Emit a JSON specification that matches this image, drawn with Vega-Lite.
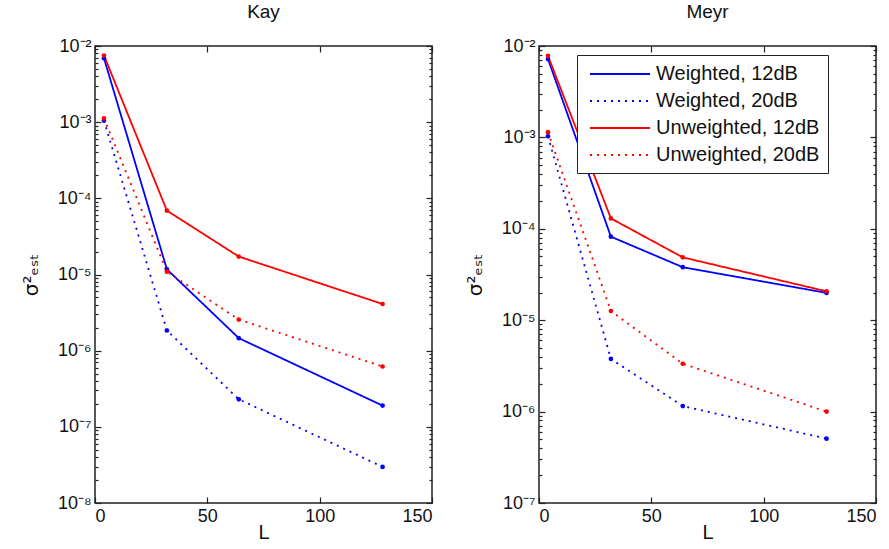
{
  "$schema": "https://vega.github.io/schema/vega-lite/v6.json",
  "padding": {"left": 20, "top": 2, "right": 0, "bottom": 4},
  "background": "white",
  "bounds": "flush",
  "spacing": 107,
  "config": {
    "font": "Liberation Sans",
    "view": {"stroke": "#222", "strokeWidth": 1.5},
    "axis": {
      "domain": false,
      "grid": false,
      "tickColor": "#222",
      "tickWidth": 1.2,
      "tickSize": 6,
      "offset": -6,
      "labelFontSize": 18,
      "labelColor": "#111",
      "labelPadding": 4,
      "titleFontSize": 20,
      "titleFontWeight": "normal",
      "titleColor": "#111"
    },
    "title": {"fontSize": 19, "fontWeight": "normal", "color": "#111", "offset": 15, "frame": "group"}
  },
  "data": {
    "values": [
      {"panel": "Kay", "series": "Weighted, 12dB", "L": 4, "v": 0.0069},
      {"panel": "Kay", "series": "Weighted, 12dB", "L": 32, "v": 0.0000117},
      {"panel": "Kay", "series": "Weighted, 12dB", "L": 64, "v": 0.00000146},
      {"panel": "Kay", "series": "Weighted, 12dB", "L": 128, "v": 0.00000019},
      {"panel": "Kay", "series": "Weighted, 20dB", "L": 4, "v": 0.00105},
      {"panel": "Kay", "series": "Weighted, 20dB", "L": 32, "v": 0.00000184},
      {"panel": "Kay", "series": "Weighted, 20dB", "L": 64, "v": 0.00000023},
      {"panel": "Kay", "series": "Weighted, 20dB", "L": 128, "v": 0.0000000298},
      {"panel": "Kay", "series": "Unweighted, 12dB", "L": 4, "v": 0.0075},
      {"panel": "Kay", "series": "Unweighted, 12dB", "L": 32, "v": 0.000069},
      {"panel": "Kay", "series": "Unweighted, 12dB", "L": 64, "v": 0.0000172},
      {"panel": "Kay", "series": "Unweighted, 12dB", "L": 128, "v": 0.0000041},
      {"panel": "Kay", "series": "Unweighted, 20dB", "L": 4, "v": 0.00112},
      {"panel": "Kay", "series": "Unweighted, 20dB", "L": 32, "v": 0.0000109},
      {"panel": "Kay", "series": "Unweighted, 20dB", "L": 64, "v": 0.00000256},
      {"panel": "Kay", "series": "Unweighted, 20dB", "L": 128, "v": 0.00000062},
      {"panel": "Meyr", "series": "Weighted, 12dB", "L": 4, "v": 0.0072},
      {"panel": "Meyr", "series": "Weighted, 12dB", "L": 32, "v": 0.000082},
      {"panel": "Meyr", "series": "Weighted, 12dB", "L": 64, "v": 0.000038},
      {"panel": "Meyr", "series": "Weighted, 12dB", "L": 128, "v": 0.0000199},
      {"panel": "Meyr", "series": "Weighted, 20dB", "L": 4, "v": 0.00103},
      {"panel": "Meyr", "series": "Weighted, 20dB", "L": 32, "v": 0.00000377},
      {"panel": "Meyr", "series": "Weighted, 20dB", "L": 64, "v": 0.00000115},
      {"panel": "Meyr", "series": "Weighted, 20dB", "L": 128, "v": 0.000000506},
      {"panel": "Meyr", "series": "Unweighted, 12dB", "L": 4, "v": 0.0078},
      {"panel": "Meyr", "series": "Unweighted, 12dB", "L": 32, "v": 0.00013},
      {"panel": "Meyr", "series": "Unweighted, 12dB", "L": 64, "v": 0.0000487},
      {"panel": "Meyr", "series": "Unweighted, 12dB", "L": 128, "v": 0.0000207},
      {"panel": "Meyr", "series": "Unweighted, 20dB", "L": 4, "v": 0.00114},
      {"panel": "Meyr", "series": "Unweighted, 20dB", "L": 32, "v": 0.0000126},
      {"panel": "Meyr", "series": "Unweighted, 20dB", "L": 64, "v": 0.00000334},
      {"panel": "Meyr", "series": "Unweighted, 20dB", "L": 128, "v": 0.000001}
    ]
  },
  "resolve": {
    "scale": {"color": "independent", "strokeDash": "independent", "y": "independent"},
    "legend": {"color": "independent", "strokeDash": "independent"}
  },
  "hconcat": [
    {
      "width": 337,
      "height": 457,
      "title": {"text": "Kay", "anchor": "middle"},
      "transform": [{"filter": "datum.panel == 'Kay'"}],
      "resolve": {"axis": {"x": "independent", "y": "independent"}},
      "layer": [
        {
          "mark": {"type": "line", "strokeWidth": 1.8, "point": {"filled": true, "size": 22}},
          "encoding": {
            "x": {"field": "L", "type": "quantitative", "scale": {"domain": [0, 150], "nice": false},
                  "axis": {"orient": "bottom", "values": [0, 50, 100, 150], "title": "L", "titlePadding": -3}},
            "y": {"field": "v", "type": "quantitative", "scale": {"type": "log", "domain": [1e-8, 0.01], "nice": false},
                  "axis": {"orient": "left", "values": [1e-8, 1e-7, 1e-6, 1e-5, 1e-4, 1e-3, 1e-2],
                           "labelExpr": "'10⁻' + ['⁰','¹','²','³','⁴','⁵','⁶','⁷','⁸','⁹'][round(-log(datum.value)/LN10)]",
                           "title": "σ²ₑₛₜ", "titlePadding": 16, "titleFont": "DejaVu Sans"}},
            "color": {"field": "series", "type": "nominal",
                      "scale": {"domain": ["Weighted, 12dB", "Weighted, 20dB", "Unweighted, 12dB", "Unweighted, 20dB"],
                                "range": ["#0000ff", "#0000ff", "#ff0000", "#ff0000"]}, "legend": null},
            "strokeDash": {"field": "series", "type": "nominal",
                           "scale": {"domain": ["Weighted, 12dB", "Weighted, 20dB", "Unweighted, 12dB", "Unweighted, 20dB"],
                                     "range": [[1, 0], [2, 5], [1, 0], [2, 5]]}, "legend": null}
          }
        },
        {
          "mark": {"type": "point", "opacity": 0},
          "encoding": {
            "x": {"field": "L", "type": "quantitative", "scale": {"domain": [0, 150], "nice": false},
                  "axis": {"orient": "top", "values": [0, 50, 100, 150], "labels": false, "title": null}},
            "y": {"field": "v", "type": "quantitative", "scale": {"type": "log", "domain": [1e-8, 0.01], "nice": false},
                  "axis": {"orient": "right", "values": [1e-8, 1e-7, 1e-6, 1e-5, 1e-4, 1e-3, 1e-2], "labels": false, "title": null}}
          }
        },
        {
          "mark": {"type": "point", "opacity": 0},
          "encoding": {
            "x": {"field": "L", "type": "quantitative", "scale": {"domain": [0, 150], "nice": false}, "axis": null},
            "y": {"field": "v", "type": "quantitative", "scale": {"type": "log", "domain": [1e-8, 0.01], "nice": false},
                  "axis": {"orient": "left", "tickSize": 3, "offset": -3, "labels": false, "title": null,
                           "values": [2e-8,3e-8,4e-8,5e-8,6e-8,7e-8,8e-8,9e-8,2e-7,3e-7,4e-7,5e-7,6e-7,7e-7,8e-7,9e-7,2e-6,3e-6,4e-6,5e-6,6e-6,7e-6,8e-6,9e-6,2e-5,3e-5,4e-5,5e-5,6e-5,7e-5,8e-5,9e-5,2e-4,3e-4,4e-4,5e-4,6e-4,7e-4,8e-4,9e-4,2e-3,3e-3,4e-3,5e-3,6e-3,7e-3,8e-3,9e-3]}}
          }
        },
        {
          "mark": {"type": "point", "opacity": 0},
          "encoding": {
            "x": {"field": "L", "type": "quantitative", "scale": {"domain": [0, 150], "nice": false}, "axis": null},
            "y": {"field": "v", "type": "quantitative", "scale": {"type": "log", "domain": [1e-8, 0.01], "nice": false},
                  "axis": {"orient": "right", "tickSize": 3, "offset": -3, "labels": false, "title": null,
                           "values": [2e-8,3e-8,4e-8,5e-8,6e-8,7e-8,8e-8,9e-8,2e-7,3e-7,4e-7,5e-7,6e-7,7e-7,8e-7,9e-7,2e-6,3e-6,4e-6,5e-6,6e-6,7e-6,8e-6,9e-6,2e-5,3e-5,4e-5,5e-5,6e-5,7e-5,8e-5,9e-5,2e-4,3e-4,4e-4,5e-4,6e-4,7e-4,8e-4,9e-4,2e-3,3e-3,4e-3,5e-3,6e-3,7e-3,8e-3,9e-3]}}
          }
        }
      ]
    },
    {
      "width": 337,
      "height": 457,
      "title": {"text": "Meyr", "anchor": "middle"},
      "transform": [{"filter": "datum.panel == 'Meyr'"}],
      "resolve": {"axis": {"x": "independent", "y": "independent"}},
      "layer": [
        {
          "mark": {"type": "line", "strokeWidth": 1.8, "point": {"filled": true, "size": 22}},
          "encoding": {
            "x": {"field": "L", "type": "quantitative", "scale": {"domain": [0, 150], "nice": false},
                  "axis": {"orient": "bottom", "values": [0, 50, 100, 150], "title": "L", "titlePadding": -3}},
            "y": {"field": "v", "type": "quantitative", "scale": {"type": "log", "domain": [1e-7, 0.01], "nice": false},
                  "axis": {"orient": "left", "values": [1e-7, 1e-6, 1e-5, 1e-4, 1e-3, 1e-2],
                           "labelExpr": "'10⁻' + ['⁰','¹','²','³','⁴','⁵','⁶','⁷','⁸','⁹'][round(-log(datum.value)/LN10)]",
                           "title": "σ²ₑₛₜ", "titlePadding": 16, "titleFont": "DejaVu Sans"}},
            "color": {"field": "series", "type": "nominal",
                      "scale": {"domain": ["Weighted, 12dB", "Weighted, 20dB", "Unweighted, 12dB", "Unweighted, 20dB"],
                                "range": ["#0000ff", "#0000ff", "#ff0000", "#ff0000"]},
                      "legend": {"orient": "none", "legendX": 38, "legendY": 9, "title": null,
                                 "symbolType": "M-3,0H3", "symbolSize": 400, "symbolStrokeWidth": 2, "symbolOffset": 24,
                                 "labelFontSize": 20, "labelColor": "#111", "labelOffset": 25, "labelLimit": 400, "rowPadding": 6,
                                 "padding": 8, "strokeColor": "#222", "fillColor": "white"}},
            "strokeDash": {"field": "series", "type": "nominal",
                           "scale": {"domain": ["Weighted, 12dB", "Weighted, 20dB", "Unweighted, 12dB", "Unweighted, 20dB"],
                                     "range": [[1, 0], [2, 5], [1, 0], [2, 5]]},
                           "legend": {"orient": "none", "legendX": 38, "legendY": 9, "title": null,
                                 "symbolType": "M-3,0H3", "symbolSize": 400, "symbolStrokeWidth": 2, "symbolOffset": 24,
                                 "labelFontSize": 20, "labelColor": "#111", "labelOffset": 25, "labelLimit": 400, "rowPadding": 6,
                                 "padding": 8, "strokeColor": "#222", "fillColor": "white"}}
          }
        },
        {
          "mark": {"type": "point", "opacity": 0},
          "encoding": {
            "x": {"field": "L", "type": "quantitative", "scale": {"domain": [0, 150], "nice": false},
                  "axis": {"orient": "top", "values": [0, 50, 100, 150], "labels": false, "title": null}},
            "y": {"field": "v", "type": "quantitative", "scale": {"type": "log", "domain": [1e-7, 0.01], "nice": false},
                  "axis": {"orient": "right", "values": [1e-7, 1e-6, 1e-5, 1e-4, 1e-3, 1e-2], "labels": false, "title": null}}
          }
        },
        {
          "mark": {"type": "point", "opacity": 0},
          "encoding": {
            "x": {"field": "L", "type": "quantitative", "scale": {"domain": [0, 150], "nice": false}, "axis": null},
            "y": {"field": "v", "type": "quantitative", "scale": {"type": "log", "domain": [1e-7, 0.01], "nice": false},
                  "axis": {"orient": "left", "tickSize": 3, "offset": -3, "labels": false, "title": null,
                           "values": [2e-7,3e-7,4e-7,5e-7,6e-7,7e-7,8e-7,9e-7,2e-6,3e-6,4e-6,5e-6,6e-6,7e-6,8e-6,9e-6,2e-5,3e-5,4e-5,5e-5,6e-5,7e-5,8e-5,9e-5,2e-4,3e-4,4e-4,5e-4,6e-4,7e-4,8e-4,9e-4,2e-3,3e-3,4e-3,5e-3,6e-3,7e-3,8e-3,9e-3]}}
          }
        },
        {
          "mark": {"type": "point", "opacity": 0},
          "encoding": {
            "x": {"field": "L", "type": "quantitative", "scale": {"domain": [0, 150], "nice": false}, "axis": null},
            "y": {"field": "v", "type": "quantitative", "scale": {"type": "log", "domain": [1e-7, 0.01], "nice": false},
                  "axis": {"orient": "right", "tickSize": 3, "offset": -3, "labels": false, "title": null,
                           "values": [2e-7,3e-7,4e-7,5e-7,6e-7,7e-7,8e-7,9e-7,2e-6,3e-6,4e-6,5e-6,6e-6,7e-6,8e-6,9e-6,2e-5,3e-5,4e-5,5e-5,6e-5,7e-5,8e-5,9e-5,2e-4,3e-4,4e-4,5e-4,6e-4,7e-4,8e-4,9e-4,2e-3,3e-3,4e-3,5e-3,6e-3,7e-3,8e-3,9e-3]}}
          }
        }
      ]
    }
  ]
}
